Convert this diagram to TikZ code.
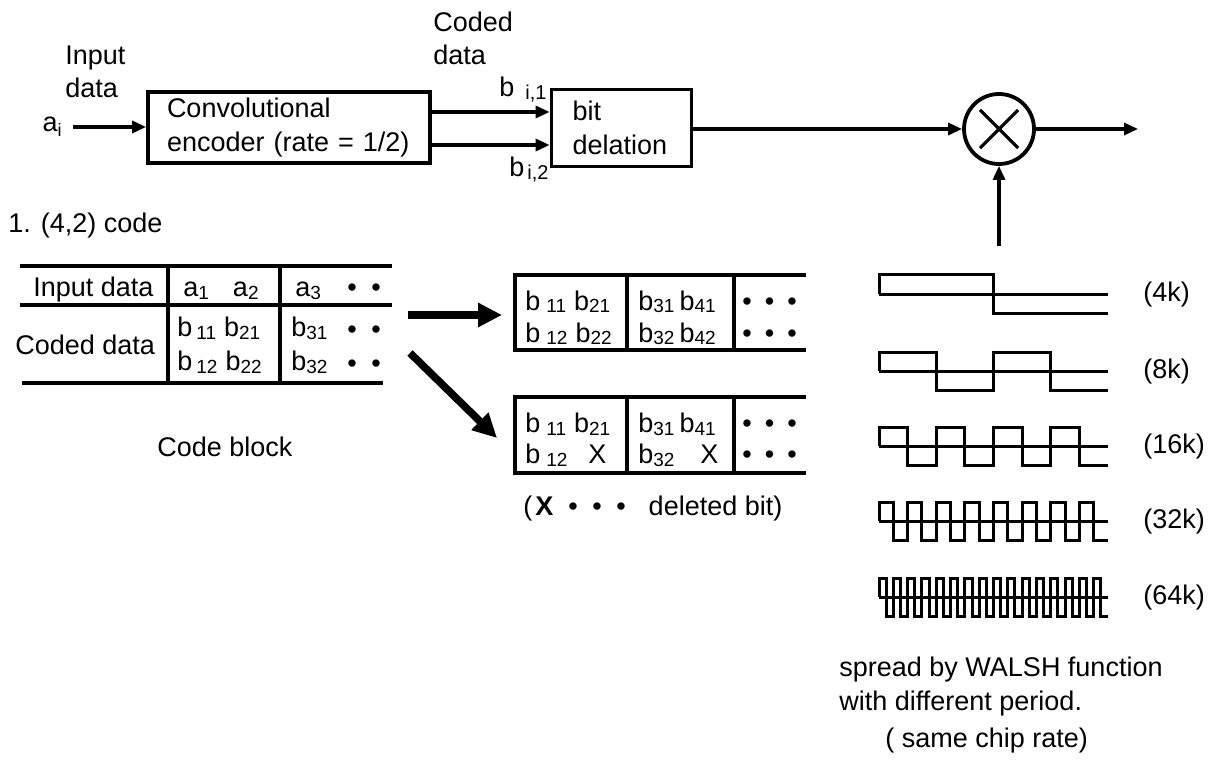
\documentclass[tikz,border=0pt]{standalone}
\usepackage{fontspec}
\setmainfont{Liberation Sans}
\usepackage{tikz}
\usetikzlibrary{arrows.meta, positioning}
\newcommand\lowsub[2][9.5]{\raisebox{-1.5pt}{\fontsize{#1}{#1}\selectfont #2}}
\newcommand\dotrow[1]{\textbullet\hspace{#1}\textbullet}
\tikzset{
  block/.style={rectangle, draw, line width=1.9pt, align=left, inner ysep=0pt},
  lbl/.style={inner sep=0pt, anchor=base west, align=left},
  arrow/.style={-{Triangle[length=7pt,width=6pt]}, line width=1.6pt},
  fatarrow/.style={-{Triangle[length=12pt,width=11.5pt]}, line width=3.8pt},
  tblrule/.style={line width=1.8pt},
  walsh/.style={line width=1.5pt},
}

\begin{document}
\begin{tikzpicture}[x=0.5pt, y=-0.5pt, font=\fontsize{13.5}{16.75}\selectfont]
  \useasboundingbox (0,0) rectangle (1218,764);

  % transmitter chain
  \node[lbl] (inlbl) at (65,98) {Input\\data};
  \node[anchor=east, inner sep=0pt] (ai) at (62,127)
    {a\raisebox{-2.5pt}{\fontsize{9}{9}\selectfont i}};
  \node[block, text width=122pt, inner xsep=9.5pt, minimum height=35.5pt]
    (enc) at (289,127.5) {Convolutional\\encoder (rate = 1/2)};
  \node[block, text width=49pt, inner xsep=10.5pt, minimum height=38.5pt]
    (del) at (621.5,128) {bit\\delation};
  \node[lbl] (cdlbl) at (433,65) {Coded\\data};
  \node[lbl] (b1lbl) at (499,97) {b\hspace{5.5pt}\lowsub[10]{i,1}};
  \node[lbl] (b2lbl) at (509,177) {b\hspace{1.5pt}\lowsub[10]{i,2}};
  \node[circle, draw, line width=1.9pt, minimum size=35pt, inner sep=0pt]
    (mult) at (999,129) {};
  \draw[line width=1.6pt, shorten <=5pt, shorten >=5pt] (mult.45) -- (mult.225);
  \draw[line width=1.6pt, shorten <=5pt, shorten >=5pt] (mult.135) -- (mult.315);
  \coordinate (out) at (1138,129);
  \coordinate (wtop) at (999,246);

  \draw[arrow, shorten <=5.5pt] (ai.east) -- (ai.east -| enc.west);
  \draw[arrow] ([yshift=7.75pt]enc.east) -- ([yshift=7.75pt]enc.east -| del.west);
  \draw[arrow] ([yshift=-8.75pt]enc.east) -- ([yshift=-8.75pt]enc.east -| del.west);
  \draw[arrow] (del.east |- mult.west) -- (mult.west);
  \draw[arrow] (mult.east) -- (out);
  \draw[arrow] (wtop) -- (mult.south);

  % code block table
  \node[lbl] (codelbl) at (8,233) {1. (4,2) code};
  \draw[tblrule] (20,266) -- (392,266);
  \draw[tblrule] (20,305) -- (392,305);
  \draw[tblrule] (22,383) -- (383,383);
  \draw[tblrule] (168,266) -- (168,383) (280,266) -- (280,383);
  \node[lbl] (inHead) at (33,297) {Input data};
  \node[lbl] (inA) at (183,297) {a\lowsub{1}\hspace{12pt}a\lowsub{2}};
  \node[lbl] (inB) at (295,297) {a\lowsub{3}};
  \node[lbl] (inDots) at (347,297) {\dotrow{7.3pt}};
  \node[lbl] (cdHead) at (15,354) {Coded data};
  \node[lbl] (cdA1) at (177,336) {b\hspace{2pt}\lowsub{11}\hspace{4pt}b\lowsub{21}};
  \node[lbl] (cdA2) at (177,370) {b\hspace{2pt}\lowsub{12}\hspace{4pt}b\lowsub{22}};
  \node[lbl] (cdB1) at (291,336) {b\lowsub{31}};
  \node[lbl] (cdB2) at (291,370) {b\lowsub{32}};
  \node[lbl] (cdDots1) at (347,338) {\dotrow{7.3pt}};
  \node[lbl] (cdDots2) at (347,372) {\dotrow{7.3pt}};
  \node[lbl] (cblk) at (157,456) {Code block};

  % rearranged blocks
  \draw[tblrule] (806,275) -- (515,275) -- (515,350) -- (806,350);
  \draw[tblrule] (627,275) -- (627,350) (734,275) -- (734,350);
  \draw[tblrule] (806,397) -- (515,397) -- (515,473) -- (806,473);
  \draw[tblrule] (627,397) -- (627,473) (734,397) -- (734,473);
  \node[lbl] (pA11) at (525,310) {b\hspace{3pt}\lowsub{11}\hspace{4pt}b\lowsub{21}};
  \node[lbl] (pA12) at (525,342) {b\hspace{3pt}\lowsub{12}\hspace{4pt}b\lowsub{22}};
  \node[lbl] (pA21) at (638,310) {b\lowsub{31}\hspace{2.5pt}b\lowsub{41}};
  \node[lbl] (pA22) at (638,342) {b\lowsub{32}\hspace{2.5pt}b\lowsub{42}};
  \node[lbl] (pADots1) at (742,310) {\textbullet\hspace{6.5pt}\dotrow{6.5pt}};
  \node[lbl] (pADots2) at (742,342) {\textbullet\hspace{6.5pt}\dotrow{6.5pt}};
  \node[lbl] (pB11) at (525,432) {b\hspace{3pt}\lowsub{11}\hspace{4pt}b\lowsub{21}};
  \node[lbl] (pB12) at (525,463) {b\hspace{3pt}\lowsub{12}};
  \node[lbl] (pBx1) at (588,463) {X};
  \node[lbl] (pB21) at (638,432) {b\lowsub{31}\hspace{2.5pt}b\lowsub{41}};
  \node[lbl] (pB22) at (638,463) {b\lowsub{32}};
  \node[lbl] (pBx2) at (700,463) {X};
  \node[lbl] (pBDots1) at (742,432) {\textbullet\hspace{6.5pt}\dotrow{6.5pt}};
  \node[lbl] (pBDots2) at (742,463) {\textbullet\hspace{6.5pt}\dotrow{6.5pt}};
  \node[lbl] (dellbl) at (523,515)
    {(\hspace{1.5pt}\textbf{X}\hspace{7.5pt}\textbullet\hspace{7.25pt}\dotrow{7.25pt}\hspace{11.5pt}deleted bit)};

  \coordinate (tblOut1) at (408,315);
  \coordinate (blkIn1) at (502,315);
  \coordinate (tblOut2) at (410,353);
  \coordinate (blkIn2) at (497,438);
  \draw[fatarrow] (tblOut1) -- (blkIn1);
  \draw[fatarrow] (tblOut2) -- (blkIn2);

  % walsh functions
  \foreach \ty/\np/\lab in {275/1/4k, 352/2/8k, 427/4/16k, 502/8/32k, 578/16/64k} {
    \draw[walsh] (879,\ty+19) -- (1108,\ty+19);
    \draw[walsh] (879,\ty+19) -- (879,\ty)
      \foreach \k in {1,...,\np} {
        -- ++(229/\np/2,0) -- ++(0,38) -- ++(229/\np/2,0)
        -- ++(0,{ifthenelse(\k<\np,-38,0)})
      };
    \node[anchor=west, inner sep=0pt] (rate\lab) at (1143,\ty+20) {(\lab)};
  }
  \node[lbl] (spread) at (839,710) {spread by WALSH function\\with different period.};
  \node[lbl] (chip) at (885,747) {( same chip rate)};
\end{tikzpicture}
\end{document}
